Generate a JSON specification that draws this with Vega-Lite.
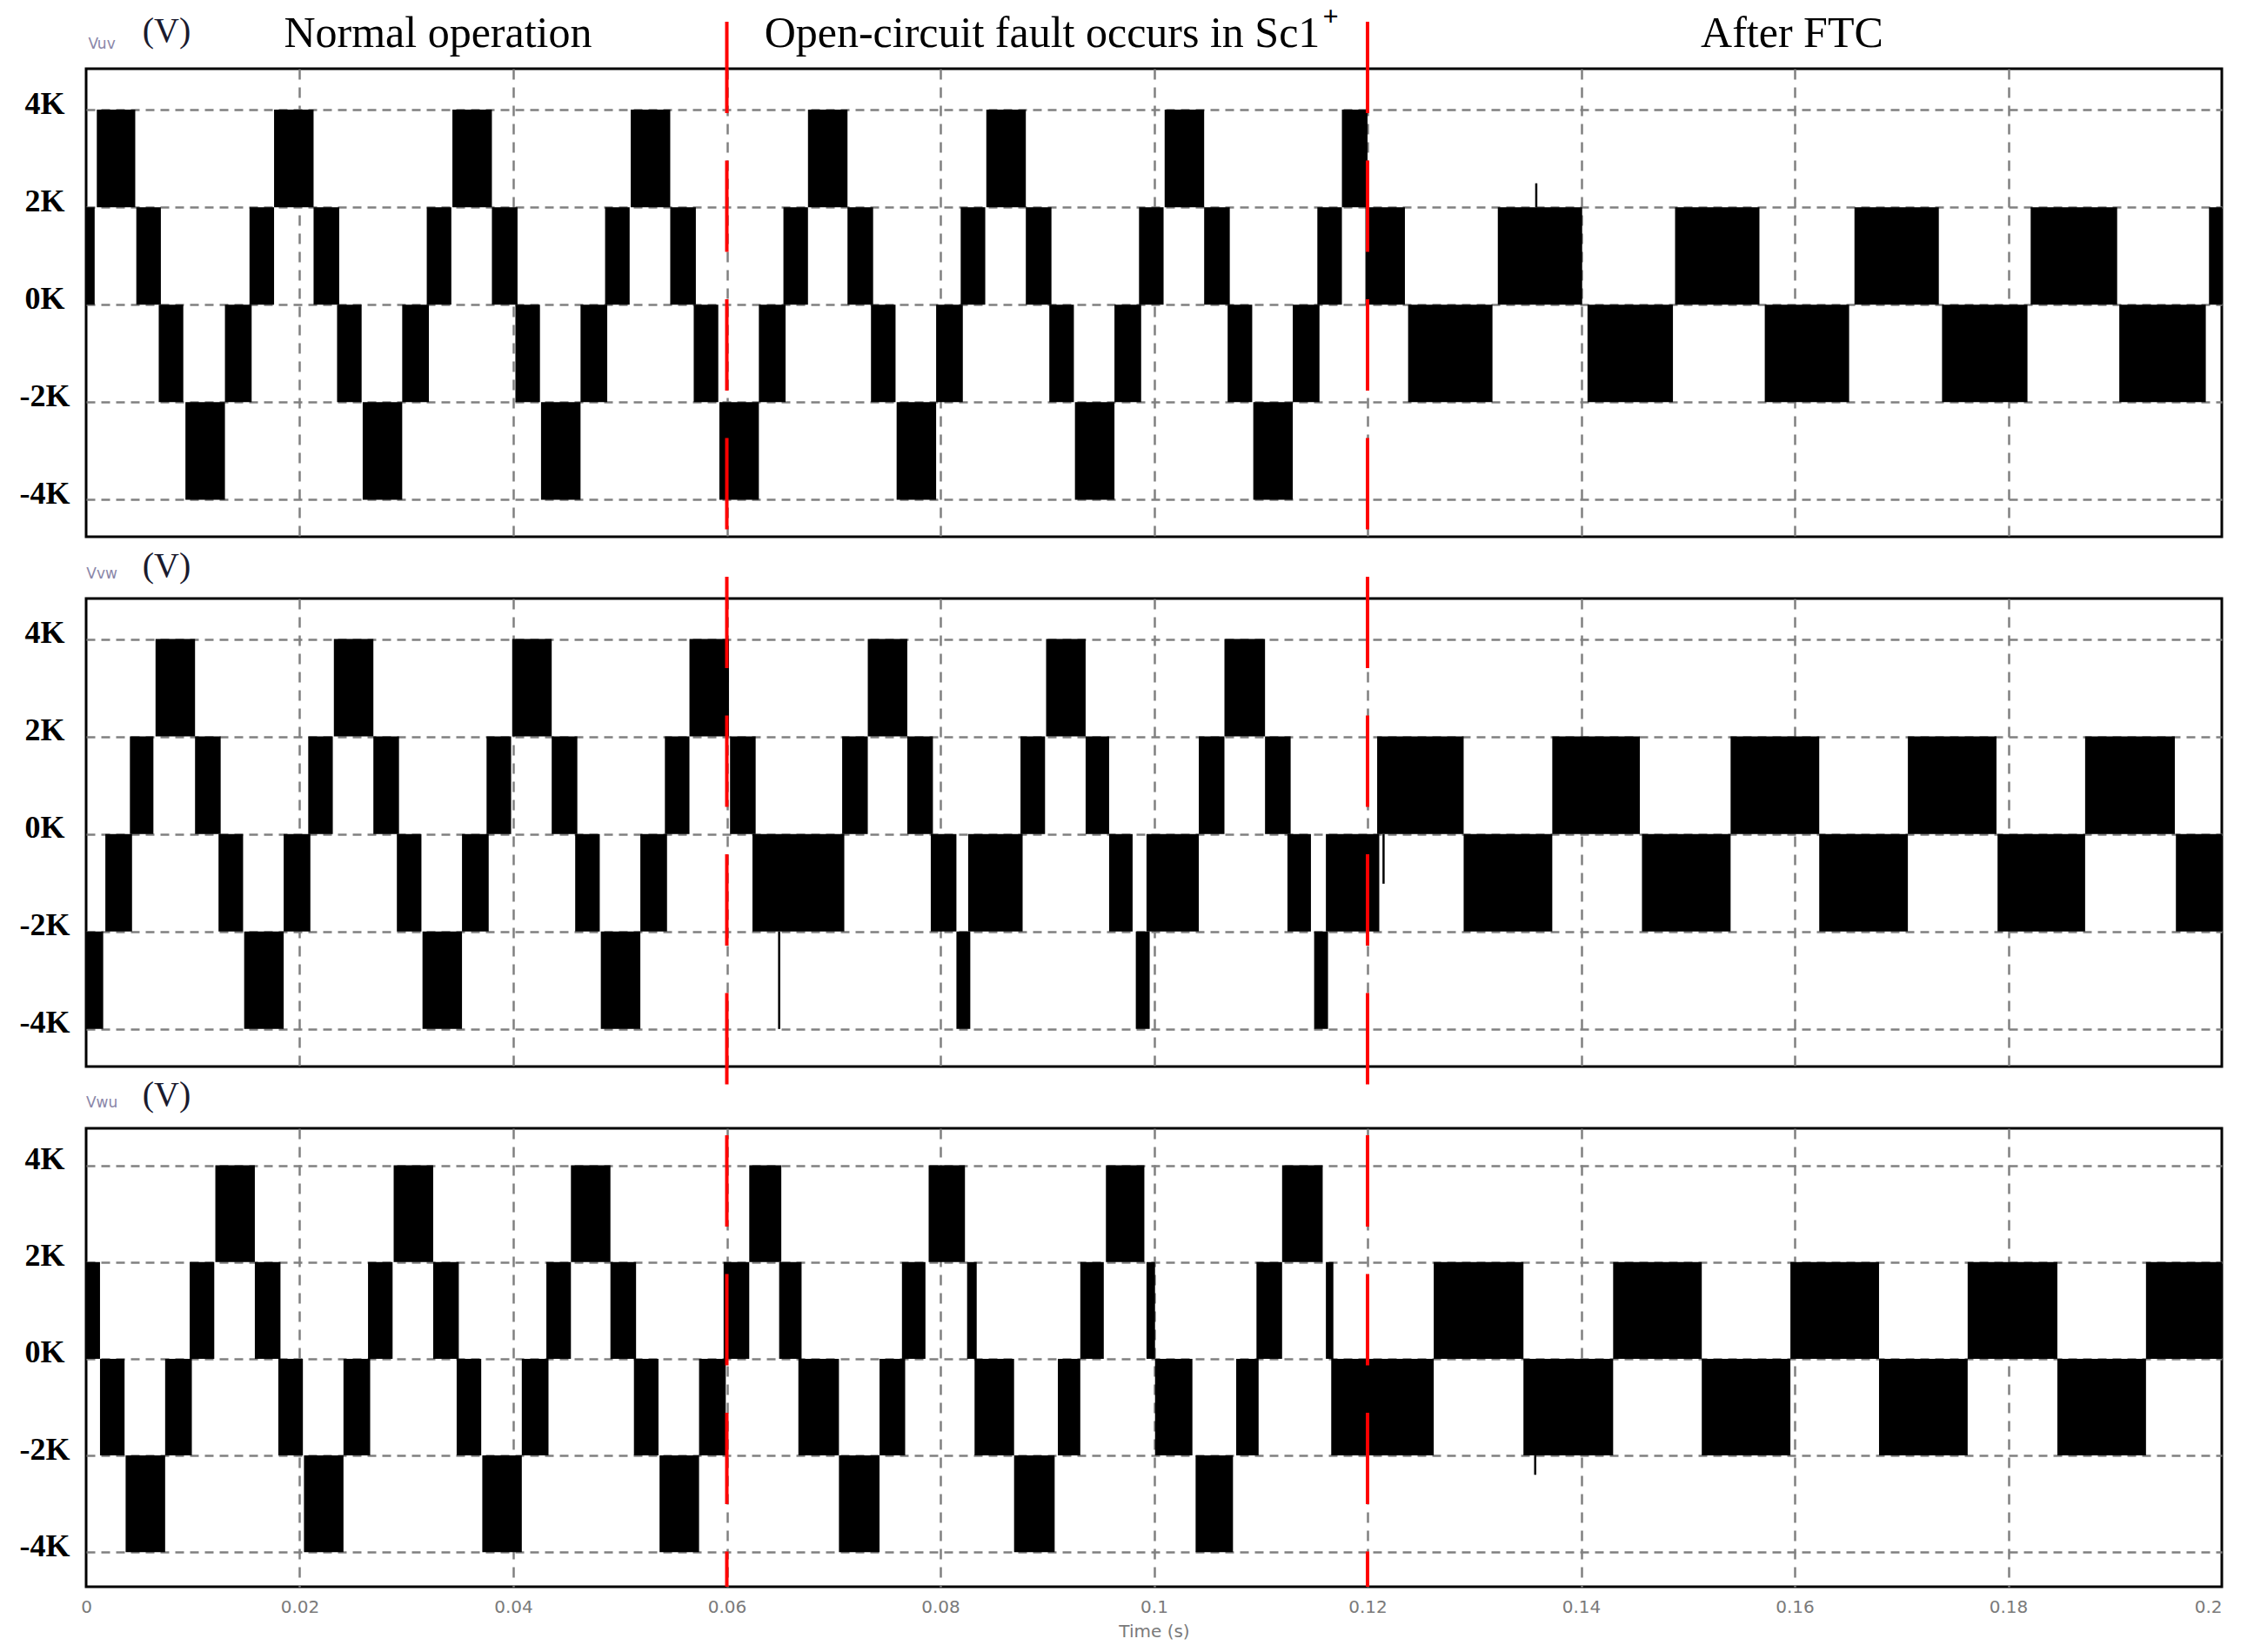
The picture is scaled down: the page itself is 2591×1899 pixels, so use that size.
{
  "$schema": "https://vega.github.io/schema/vega-lite/v6.json",
  "autosize": {"type": "pad"},
  "padding": 0,
  "background": "white",
  "config": {
    "view": {"stroke": "black", "strokeWidth": 3},
    "axis": {"domain": false, "ticks": false, "tickSize": 0, "gridColor": "#808080", "gridWidth": 2.5, "gridOpacity": 1}
  },
  "datasets": {
    "faults": [{"t": 0.06}, {"t": 0.12}],
    "titles": [
      {"label": "Normal operation", "t": 0.03295},
      {"label": "Open-circuit fault occurs in Sc1", "t": 0.08953},
      {"label": "After FTC", "t": 0.15975}
    ],
    "vuv": [
      {"t0": 0.0, "t1": 0.0008, "lo": 0, "hi": 2000},
      {"t0": 0.0010, "t1": 0.0046, "lo": 2000, "hi": 4000},
      {"t0": 0.0047, "t1": 0.0070, "lo": 0, "hi": 2000},
      {"t0": 0.0068, "t1": 0.0091, "lo": -2000, "hi": 0},
      {"t0": 0.0093, "t1": 0.0130, "lo": -4000, "hi": -2000},
      {"t0": 0.0130, "t1": 0.0155, "lo": -2000, "hi": 0},
      {"t0": 0.0153, "t1": 0.0176, "lo": 0, "hi": 2000},
      {"t0": 0.0176, "t1": 0.0213, "lo": 2000, "hi": 4000},
      {"t0": 0.0213, "t1": 0.0237, "lo": 0, "hi": 2000},
      {"t0": 0.0235, "t1": 0.0258, "lo": -2000, "hi": 0},
      {"t0": 0.0259, "t1": 0.0296, "lo": -4000, "hi": -2000},
      {"t0": 0.0296, "t1": 0.0321, "lo": -2000, "hi": 0},
      {"t0": 0.0319, "t1": 0.0342, "lo": 0, "hi": 2000},
      {"t0": 0.0343, "t1": 0.0380, "lo": 2000, "hi": 4000},
      {"t0": 0.0380, "t1": 0.0404, "lo": 0, "hi": 2000},
      {"t0": 0.0402, "t1": 0.0425, "lo": -2000, "hi": 0},
      {"t0": 0.0426, "t1": 0.0463, "lo": -4000, "hi": -2000},
      {"t0": 0.0463, "t1": 0.0488, "lo": -2000, "hi": 0},
      {"t0": 0.0486, "t1": 0.0509, "lo": 0, "hi": 2000},
      {"t0": 0.0510, "t1": 0.0547, "lo": 2000, "hi": 4000},
      {"t0": 0.0547, "t1": 0.0571, "lo": 0, "hi": 2000},
      {"t0": 0.0569, "t1": 0.0592, "lo": -2000, "hi": 0},
      {"t0": 0.0593, "t1": 0.0630, "lo": -4000, "hi": -2000},
      {"t0": 0.0630, "t1": 0.0655, "lo": -2000, "hi": 0},
      {"t0": 0.0653, "t1": 0.0676, "lo": 0, "hi": 2000},
      {"t0": 0.0676, "t1": 0.0713, "lo": 2000, "hi": 4000},
      {"t0": 0.0713, "t1": 0.0737, "lo": 0, "hi": 2000},
      {"t0": 0.0735, "t1": 0.0758, "lo": -2000, "hi": 0},
      {"t0": 0.0759, "t1": 0.0796, "lo": -4000, "hi": -2000},
      {"t0": 0.0796, "t1": 0.0821, "lo": -2000, "hi": 0},
      {"t0": 0.0819, "t1": 0.0842, "lo": 0, "hi": 2000},
      {"t0": 0.0843, "t1": 0.0880, "lo": 2000, "hi": 4000},
      {"t0": 0.0880, "t1": 0.0904, "lo": 0, "hi": 2000},
      {"t0": 0.0902, "t1": 0.0925, "lo": -2000, "hi": 0},
      {"t0": 0.0926, "t1": 0.0963, "lo": -4000, "hi": -2000},
      {"t0": 0.0963, "t1": 0.0988, "lo": -2000, "hi": 0},
      {"t0": 0.0986, "t1": 0.1009, "lo": 0, "hi": 2000},
      {"t0": 0.1010, "t1": 0.1047, "lo": 2000, "hi": 4000},
      {"t0": 0.1047, "t1": 0.1071, "lo": 0, "hi": 2000},
      {"t0": 0.1069, "t1": 0.1092, "lo": -2000, "hi": 0},
      {"t0": 0.1093, "t1": 0.1130, "lo": -4000, "hi": -2000},
      {"t0": 0.1130, "t1": 0.1155, "lo": -2000, "hi": 0},
      {"t0": 0.1153, "t1": 0.1176, "lo": 0, "hi": 2000},
      {"t0": 0.1176, "t1": 0.1200, "lo": 2000, "hi": 4000},
      {"t0": 0.1198, "t1": 0.1235, "lo": 0, "hi": 2000},
      {"t0": 0.1238, "t1": 0.1317, "lo": -2000, "hi": 0},
      {"t0": 0.1322, "t1": 0.1401, "lo": 0, "hi": 2000},
      {"t0": 0.1406, "t1": 0.1486, "lo": -2000, "hi": 0},
      {"t0": 0.1488, "t1": 0.1567, "lo": 0, "hi": 2000},
      {"t0": 0.1572, "t1": 0.1651, "lo": -2000, "hi": 0},
      {"t0": 0.1656, "t1": 0.1735, "lo": 0, "hi": 2000},
      {"t0": 0.1738, "t1": 0.1818, "lo": -2000, "hi": 0},
      {"t0": 0.1821, "t1": 0.1902, "lo": 0, "hi": 2000},
      {"t0": 0.1904, "t1": 0.1985, "lo": -2000, "hi": 0},
      {"t0": 0.1988, "t1": 0.2000, "lo": 0, "hi": 2000}
    ],
    "vvw": [
      {"t0": 0.0, "t1": 0.0016, "lo": -4000, "hi": -2000},
      {"t0": 0.0018, "t1": 0.0043, "lo": -2000, "hi": 0},
      {"t0": 0.0041, "t1": 0.0063, "lo": 0, "hi": 2000},
      {"t0": 0.0065, "t1": 0.0102, "lo": 2000, "hi": 4000},
      {"t0": 0.0102, "t1": 0.0126, "lo": 0, "hi": 2000},
      {"t0": 0.0124, "t1": 0.0147, "lo": -2000, "hi": 0},
      {"t0": 0.0148, "t1": 0.0185, "lo": -4000, "hi": -2000},
      {"t0": 0.0185, "t1": 0.0210, "lo": -2000, "hi": 0},
      {"t0": 0.0208, "t1": 0.0231, "lo": 0, "hi": 2000},
      {"t0": 0.0232, "t1": 0.0269, "lo": 2000, "hi": 4000},
      {"t0": 0.0269, "t1": 0.0293, "lo": 0, "hi": 2000},
      {"t0": 0.0291, "t1": 0.0314, "lo": -2000, "hi": 0},
      {"t0": 0.0315, "t1": 0.0352, "lo": -4000, "hi": -2000},
      {"t0": 0.0352, "t1": 0.0377, "lo": -2000, "hi": 0},
      {"t0": 0.0375, "t1": 0.0398, "lo": 0, "hi": 2000},
      {"t0": 0.0399, "t1": 0.0436, "lo": 2000, "hi": 4000},
      {"t0": 0.0436, "t1": 0.0460, "lo": 0, "hi": 2000},
      {"t0": 0.0458, "t1": 0.0481, "lo": -2000, "hi": 0},
      {"t0": 0.0482, "t1": 0.0519, "lo": -4000, "hi": -2000},
      {"t0": 0.0519, "t1": 0.0544, "lo": -2000, "hi": 0},
      {"t0": 0.0542, "t1": 0.0565, "lo": 0, "hi": 2000},
      {"t0": 0.0565, "t1": 0.0602, "lo": 2000, "hi": 4000},
      {"t0": 0.0603, "t1": 0.0627, "lo": 0, "hi": 2000},
      {"t0": 0.0624, "t1": 0.0710, "lo": -2000, "hi": 0},
      {"t0": 0.0708, "t1": 0.0732, "lo": 0, "hi": 2000},
      {"t0": 0.0732, "t1": 0.0769, "lo": 2000, "hi": 4000},
      {"t0": 0.0769, "t1": 0.0793, "lo": 0, "hi": 2000},
      {"t0": 0.0791, "t1": 0.0815, "lo": -2000, "hi": 0},
      {"t0": 0.0815, "t1": 0.0828, "lo": -4000, "hi": -2000},
      {"t0": 0.0826, "t1": 0.0877, "lo": -2000, "hi": 0},
      {"t0": 0.0875, "t1": 0.0898, "lo": 0, "hi": 2000},
      {"t0": 0.0899, "t1": 0.0936, "lo": 2000, "hi": 4000},
      {"t0": 0.0936, "t1": 0.0958, "lo": 0, "hi": 2000},
      {"t0": 0.0958, "t1": 0.0980, "lo": -2000, "hi": 0},
      {"t0": 0.0983, "t1": 0.0996, "lo": -4000, "hi": -2000},
      {"t0": 0.0993, "t1": 0.1042, "lo": -2000, "hi": 0},
      {"t0": 0.1042, "t1": 0.1066, "lo": 0, "hi": 2000},
      {"t0": 0.1066, "t1": 0.1104, "lo": 2000, "hi": 4000},
      {"t0": 0.1104, "t1": 0.1128, "lo": 0, "hi": 2000},
      {"t0": 0.1125, "t1": 0.1147, "lo": -2000, "hi": 0},
      {"t0": 0.1150, "t1": 0.1163, "lo": -4000, "hi": -2000},
      {"t0": 0.1161, "t1": 0.1211, "lo": -2000, "hi": 0},
      {"t0": 0.1209, "t1": 0.1290, "lo": 0, "hi": 2000},
      {"t0": 0.1290, "t1": 0.1373, "lo": -2000, "hi": 0},
      {"t0": 0.1373, "t1": 0.1455, "lo": 0, "hi": 2000},
      {"t0": 0.1457, "t1": 0.1540, "lo": -2000, "hi": 0},
      {"t0": 0.1540, "t1": 0.1623, "lo": 0, "hi": 2000},
      {"t0": 0.1623, "t1": 0.1706, "lo": -2000, "hi": 0},
      {"t0": 0.1706, "t1": 0.1789, "lo": 0, "hi": 2000},
      {"t0": 0.1790, "t1": 0.1872, "lo": -2000, "hi": 0},
      {"t0": 0.1872, "t1": 0.1956, "lo": 0, "hi": 2000},
      {"t0": 0.1957, "t1": 0.2000, "lo": -2000, "hi": 0}
    ],
    "vwu": [
      {"t0": 0.0, "t1": 0.0013, "lo": 0, "hi": 2000},
      {"t0": 0.0013, "t1": 0.0036, "lo": -2000, "hi": 0},
      {"t0": 0.0037, "t1": 0.0074, "lo": -4000, "hi": -2000},
      {"t0": 0.0074, "t1": 0.0099, "lo": -2000, "hi": 0},
      {"t0": 0.0097, "t1": 0.0120, "lo": 0, "hi": 2000},
      {"t0": 0.0121, "t1": 0.0158, "lo": 2000, "hi": 4000},
      {"t0": 0.0158, "t1": 0.0182, "lo": 0, "hi": 2000},
      {"t0": 0.0180, "t1": 0.0203, "lo": -2000, "hi": 0},
      {"t0": 0.0204, "t1": 0.0241, "lo": -4000, "hi": -2000},
      {"t0": 0.0241, "t1": 0.0266, "lo": -2000, "hi": 0},
      {"t0": 0.0264, "t1": 0.0287, "lo": 0, "hi": 2000},
      {"t0": 0.0288, "t1": 0.0325, "lo": 2000, "hi": 4000},
      {"t0": 0.0325, "t1": 0.0349, "lo": 0, "hi": 2000},
      {"t0": 0.0347, "t1": 0.0370, "lo": -2000, "hi": 0},
      {"t0": 0.0371, "t1": 0.0408, "lo": -4000, "hi": -2000},
      {"t0": 0.0408, "t1": 0.0433, "lo": -2000, "hi": 0},
      {"t0": 0.0431, "t1": 0.0454, "lo": 0, "hi": 2000},
      {"t0": 0.0454, "t1": 0.0491, "lo": 2000, "hi": 4000},
      {"t0": 0.0491, "t1": 0.0515, "lo": 0, "hi": 2000},
      {"t0": 0.0513, "t1": 0.0536, "lo": -2000, "hi": 0},
      {"t0": 0.0537, "t1": 0.0574, "lo": -4000, "hi": -2000},
      {"t0": 0.0574, "t1": 0.0599, "lo": -2000, "hi": 0},
      {"t0": 0.0597, "t1": 0.0621, "lo": 0, "hi": 2000},
      {"t0": 0.0621, "t1": 0.0651, "lo": 2000, "hi": 4000},
      {"t0": 0.0649, "t1": 0.0670, "lo": 0, "hi": 2000},
      {"t0": 0.0667, "t1": 0.0705, "lo": -2000, "hi": 0},
      {"t0": 0.0705, "t1": 0.0743, "lo": -4000, "hi": -2000},
      {"t0": 0.0743, "t1": 0.0767, "lo": -2000, "hi": 0},
      {"t0": 0.0764, "t1": 0.0786, "lo": 0, "hi": 2000},
      {"t0": 0.0789, "t1": 0.0823, "lo": 2000, "hi": 4000},
      {"t0": 0.0825, "t1": 0.0834, "lo": 0, "hi": 2000},
      {"t0": 0.0832, "t1": 0.0869, "lo": -2000, "hi": 0},
      {"t0": 0.0869, "t1": 0.0907, "lo": -4000, "hi": -2000},
      {"t0": 0.0910, "t1": 0.0931, "lo": -2000, "hi": 0},
      {"t0": 0.0931, "t1": 0.0953, "lo": 0, "hi": 2000},
      {"t0": 0.0955, "t1": 0.0991, "lo": 2000, "hi": 4000},
      {"t0": 0.0993, "t1": 0.1001, "lo": 0, "hi": 2000},
      {"t0": 0.1001, "t1": 0.1036, "lo": -2000, "hi": 0},
      {"t0": 0.1039, "t1": 0.1074, "lo": -4000, "hi": -2000},
      {"t0": 0.1077, "t1": 0.1098, "lo": -2000, "hi": 0},
      {"t0": 0.1096, "t1": 0.1120, "lo": 0, "hi": 2000},
      {"t0": 0.1120, "t1": 0.1158, "lo": 2000, "hi": 4000},
      {"t0": 0.1161, "t1": 0.1168, "lo": 0, "hi": 2000},
      {"t0": 0.1166, "t1": 0.1262, "lo": -2000, "hi": 0},
      {"t0": 0.1262, "t1": 0.1346, "lo": 0, "hi": 2000},
      {"t0": 0.1346, "t1": 0.1430, "lo": -2000, "hi": 0},
      {"t0": 0.1430, "t1": 0.1513, "lo": 0, "hi": 2000},
      {"t0": 0.1513, "t1": 0.1596, "lo": -2000, "hi": 0},
      {"t0": 0.1596, "t1": 0.1679, "lo": 0, "hi": 2000},
      {"t0": 0.1679, "t1": 0.1762, "lo": -2000, "hi": 0},
      {"t0": 0.1762, "t1": 0.1846, "lo": 0, "hi": 2000},
      {"t0": 0.1846, "t1": 0.1929, "lo": -2000, "hi": 0},
      {"t0": 0.1929, "t1": 0.2000, "lo": 0, "hi": 2000}
    ]
  },
  "spacing": 71,
  "bounds": "flush",
  "vconcat": [
    {
      "width": 2455,
      "height": 538,
      "layer": [
        {
          "data": {"name": "vuv"},
          "mark": {"type": "rect", "color": "black"},
          "encoding": {
            "x": {"field": "t0", "type": "quantitative", "scale": {"domain": [0, 0.2], "nice": false, "zero": false},
              "axis": {"values": [0, 0.02, 0.04, 0.06, 0.08, 0.1, 0.12, 0.14, 0.16, 0.18, 0.2], "labels": false, "title": null, "grid": true, "gridDash": [12, 9],
                "gridOpacity": {"condition": {"test": "datum.value < 0.001 || datum.value > 0.199", "value": 0}, "value": 1}}},
            "x2": {"field": "t1"},
            "y": {"field": "lo", "type": "quantitative", "scale": {"domain": [-4760, 4840], "nice": false, "zero": false},
              "axis": {"values": [-4000, -2000, 0, 2000, 4000], "labelExpr": "(datum.value / 1000) + 'K'", "labelFont": "Liberation Serif", "labelFontWeight": "bold", "labelFontSize": 36, "labelColor": "black", "labelAlign": "center", "labelBaseline": "middle", "labelPadding": 48, "labelOffset": -7, "title": null, "grid": true, "gridDash": [10, 7]}},
            "y2": {"field": "hi"}
          }
        },
        {
          "data": {"values": [{"t": 0.1358, "lo": 2000, "hi": 2490}]},
          "mark": {"type": "rule", "color": "black", "strokeWidth": 2.5},
          "encoding": {"x": {"field": "t", "type": "quantitative"}, "y": {"field": "lo", "type": "quantitative"}, "y2": {"field": "hi"}}
        },
        {
          "data": {"name": "faults"},
          "mark": {"type": "rule", "color": "#ff0000", "strokeWidth": 4, "strokeDash": [105, 54.5]},
          "encoding": {"x": {"field": "t", "type": "quantitative"}, "y": {"datum": 5804, "type": "quantitative"}, "y2": {"datum": -4760}}
        },
        {
          "data": {"name": "titles"},
          "mark": {"type": "text", "font": "Liberation Serif", "fontSize": 50, "align": "center", "baseline": "alphabetic", "color": "black"},
          "encoding": {"x": {"field": "t", "type": "quantitative"}, "y": {"datum": 5286, "type": "quantitative"}, "text": {"field": "label"}}
        },
        {
          "data": {"values": [{"label": "+", "t": 0.11655}]},
          "mark": {"type": "text", "font": "Liberation Serif", "fontSize": 32, "fontWeight": "bold", "align": "center", "baseline": "middle", "color": "black"},
          "encoding": {"x": {"field": "t", "type": "quantitative"}, "y": {"datum": 5902, "type": "quantitative"}, "text": {"field": "label"}}
        },
        {
          "data": {"values": [{"label": "Vuv", "t": 0.00147}]},
          "mark": {"type": "text", "font": "DejaVu Sans", "fontSize": 17, "align": "center", "baseline": "alphabetic", "color": "#8a86a8"},
          "encoding": {"x": {"field": "t", "type": "quantitative"}, "y": {"datum": 5251, "type": "quantitative"}, "text": {"field": "label"}}
        },
        {
          "data": {"values": [{"label": "(V)", "t": 0.00754}]},
          "mark": {"type": "text", "font": "Liberation Serif", "fontSize": 40, "align": "center", "baseline": "alphabetic", "color": "#1a1a2e"},
          "encoding": {"x": {"field": "t", "type": "quantitative"}, "y": {"datum": 5393, "type": "quantitative"}, "text": {"field": "label"}}
        },
        {
          "data": {"values": [{"anchor": "origin"}]},
          "mark": {"type": "rule", "color": "white", "strokeWidth": 0.001},
          "encoding": {"x": {"datum": -0.0079022, "type": "quantitative"}, "y": {"datum": 6214, "type": "quantitative"}, "y2": {"datum": 4840}}
        }
      ]
    },
    {
      "width": 2455,
      "height": 538,
      "layer": [
        {
          "data": {"name": "vvw"},
          "mark": {"type": "rect", "color": "black"},
          "encoding": {
            "x": {"field": "t0", "type": "quantitative", "scale": {"domain": [0, 0.2], "nice": false, "zero": false},
              "axis": {"values": [0, 0.02, 0.04, 0.06, 0.08, 0.1, 0.12, 0.14, 0.16, 0.18, 0.2], "labels": false, "title": null, "grid": true, "gridDash": [12, 9],
                "gridOpacity": {"condition": {"test": "datum.value < 0.001 || datum.value > 0.199", "value": 0}, "value": 1}}},
            "x2": {"field": "t1"},
            "y": {"field": "lo", "type": "quantitative", "scale": {"domain": [-4770, 4830], "nice": false, "zero": false},
              "axis": {"values": [-4000, -2000, 0, 2000, 4000], "labelExpr": "(datum.value / 1000) + 'K'", "labelFont": "Liberation Serif", "labelFontWeight": "bold", "labelFontSize": 36, "labelColor": "black", "labelAlign": "center", "labelBaseline": "middle", "labelPadding": 48, "labelOffset": -7, "title": null, "grid": true, "gridDash": [10, 7]}},
            "y2": {"field": "hi"}
          }
        },
        {
          "data": {"values": [{"t": 0.0649, "lo": -4000, "hi": -2000}, {"t": 0.1215, "lo": -1020, "hi": 0}]},
          "mark": {"type": "rule", "color": "black", "strokeWidth": 2.5},
          "encoding": {"x": {"field": "t", "type": "quantitative"}, "y": {"field": "lo", "type": "quantitative"}, "y2": {"field": "hi"}}
        },
        {
          "data": {"name": "faults"},
          "mark": {"type": "rule", "color": "#ff0000", "strokeWidth": 4, "strokeDash": [105, 54.5]},
          "encoding": {"x": {"field": "t", "type": "quantitative"}, "y": {"datum": 5276, "type": "quantitative"}, "y2": {"datum": -5145}}
        },
        {
          "data": {"values": [{"label": "Vvw", "t": 0.00147}]},
          "mark": {"type": "text", "font": "DejaVu Sans", "fontSize": 17, "align": "center", "baseline": "alphabetic", "color": "#8a86a8"},
          "encoding": {"x": {"field": "t", "type": "quantitative"}, "y": {"datum": 5241, "type": "quantitative"}, "text": {"field": "label"}}
        },
        {
          "data": {"values": [{"label": "(V)", "t": 0.00754}]},
          "mark": {"type": "text", "font": "Liberation Serif", "fontSize": 40, "align": "center", "baseline": "alphabetic", "color": "#1a1a2e"},
          "encoding": {"x": {"field": "t", "type": "quantitative"}, "y": {"datum": 5276, "type": "quantitative"}, "text": {"field": "label"}}
        }
      ]
    },
    {
      "width": 2455,
      "height": 527,
      "layer": [
        {
          "data": {"name": "vwu"},
          "mark": {"type": "rect", "color": "black"},
          "encoding": {
            "x": {"field": "t0", "type": "quantitative", "scale": {"domain": [0, 0.2], "nice": false, "zero": false},
              "axis": {"values": [0, 0.02, 0.04, 0.06, 0.08, 0.1, 0.12, 0.14, 0.16, 0.18, 0.2], "labelExpr": "format(datum.value, '.2~f')", "labelFont": "DejaVu Sans", "labelFontSize": 20, "labelColor": "#7a7a7a", "labelPadding": 13, "labelFlush": false,
                "labelAlign": {"condition": {"test": "datum.value > 0.199", "value": "right"}, "value": "center"},
                "title": "Time (s)", "titleFont": "DejaVu Sans", "titleFontSize": 20, "titleFontWeight": "normal", "titleColor": "#7a7a7a", "titlePadding": 8,
                "grid": true, "gridDash": [12, 9],
                "gridOpacity": {"condition": {"test": "datum.value < 0.001 || datum.value > 0.199", "value": 0}, "value": 1}}},
            "x2": {"field": "t1"},
            "y": {"field": "lo", "type": "quantitative", "scale": {"domain": [-4715, 4765], "nice": false, "zero": false},
              "axis": {"values": [-4000, -2000, 0, 2000, 4000], "labelExpr": "(datum.value / 1000) + 'K'", "labelFont": "Liberation Serif", "labelFontWeight": "bold", "labelFontSize": 36, "labelColor": "black", "labelAlign": "center", "labelBaseline": "middle", "labelPadding": 48, "labelOffset": -7, "title": null, "grid": true, "gridDash": [10, 7]}},
            "y2": {"field": "hi"}
          }
        },
        {
          "data": {"values": [{"t": 0.1357, "lo": -2400, "hi": -2000}]},
          "mark": {"type": "rule", "color": "black", "strokeWidth": 2.5},
          "encoding": {"x": {"field": "t", "type": "quantitative"}, "y": {"field": "lo", "type": "quantitative"}, "y2": {"field": "hi"}}
        },
        {
          "data": {"name": "faults"},
          "mark": {"type": "rule", "color": "#ff0000", "strokeWidth": 4, "strokeDash": [105, 54.5]},
          "encoding": {"x": {"field": "t", "type": "quantitative"}, "y": {"datum": 4621, "type": "quantitative"}, "y2": {"datum": -4715}}
        },
        {
          "data": {"values": [{"label": "Vwu", "t": 0.00147}]},
          "mark": {"type": "text", "font": "DejaVu Sans", "fontSize": 17, "align": "center", "baseline": "alphabetic", "color": "#8a86a8"},
          "encoding": {"x": {"field": "t", "type": "quantitative"}, "y": {"datum": 5197, "type": "quantitative"}, "text": {"field": "label"}}
        },
        {
          "data": {"values": [{"label": "(V)", "t": 0.00754}]},
          "mark": {"type": "text", "font": "Liberation Serif", "fontSize": 40, "align": "center", "baseline": "alphabetic", "color": "#1a1a2e"},
          "encoding": {"x": {"field": "t", "type": "quantitative"}, "y": {"datum": 5233, "type": "quantitative"}, "text": {"field": "label"}}
        }
      ]
    }
  ]
}
